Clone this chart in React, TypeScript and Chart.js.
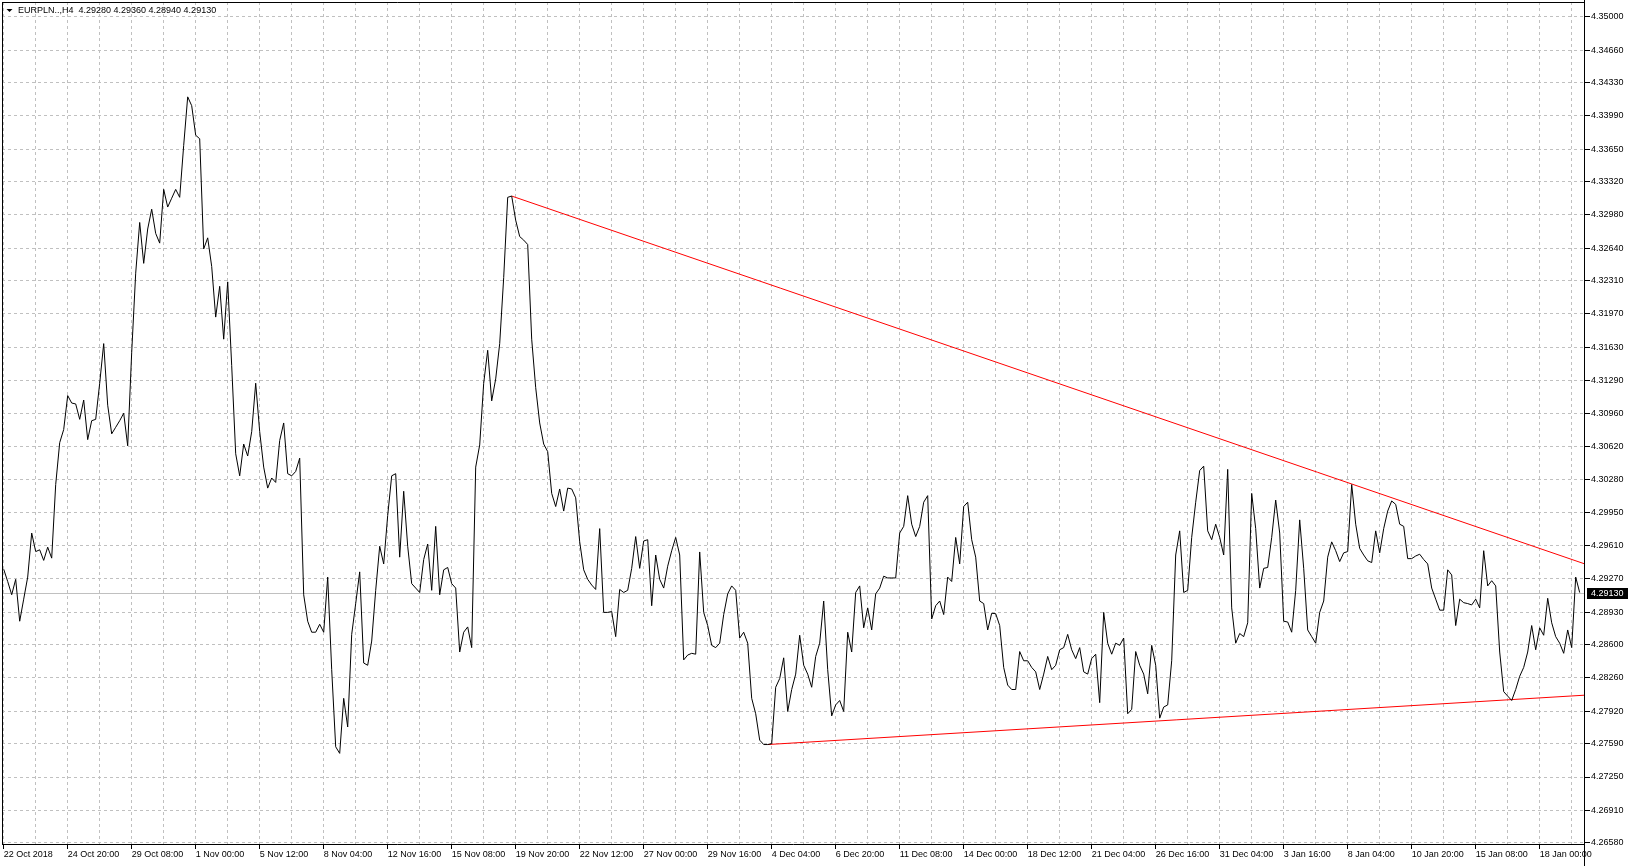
import React, { useEffect, useRef } from "react";
import { Chart, registerables } from "chart.js";

Chart.register(...registerables);

const FONT = '"Liberation Sans", Arial, sans-serif';

const symbolName = "EURPLN..,H4";
const lastBarOHLC = [4.2928, 4.2936, 4.2894, 4.2913];

const priceLabels = [
  "4.35000", "4.34660", "4.34330", "4.33990", "4.33650", "4.33320", "4.32980",
  "4.32640", "4.32310", "4.31970", "4.31630", "4.31290", "4.30960", "4.30620",
  "4.30280", "4.29950", "4.29610", "4.29270", "4.28930", "4.28600", "4.28260",
  "4.27920", "4.27590", "4.27250", "4.26910", "4.26580",
];

const timeLabels = [
  "22 Oct 2018", "24 Oct 20:00", "29 Oct 08:00", "1 Nov 00:00", "5 Nov 12:00",
  "8 Nov 04:00", "12 Nov 16:00", "15 Nov 08:00", "19 Nov 20:00", "22 Nov 12:00",
  "27 Nov 00:00", "29 Nov 16:00", "4 Dec 04:00", "6 Dec 20:00", "11 Dec 08:00",
  "14 Dec 00:00", "18 Dec 12:00", "21 Dec 04:00", "26 Dec 16:00", "31 Dec 04:00",
  "3 Jan 16:00", "8 Jan 04:00", "10 Jan 20:00", "15 Jan 08:00", "18 Jan 00:00",
];

// H4 close prices, one per bar
const closes = [
  4.29368, 4.29243, 4.29108, 4.29265, 4.28838, 4.29063, 4.29288, 4.29737, 4.29548, 4.29566,
  4.29458, 4.29593, 4.29481, 4.30231, 4.30658, 4.30792, 4.31138, 4.31062, 4.31053, 4.30896,
  4.31093, 4.30689, 4.30882, 4.30896, 4.31264, 4.31668, 4.31040, 4.30748, 4.30815, 4.30882,
  4.30958, 4.30626, 4.31578, 4.32386, 4.32903, 4.32486, 4.32836, 4.33038, 4.32791, 4.32692,
  4.33240, 4.33060, 4.33150, 4.33240, 4.33159, 4.33689, 4.34183, 4.34093, 4.33792, 4.33756,
  4.32633, 4.32746, 4.32454, 4.31938, 4.32252, 4.31713, 4.32297, 4.31443, 4.30545, 4.30320,
  4.30644, 4.30522, 4.30770, 4.31264, 4.30770, 4.30409, 4.30195, 4.30298, 4.30253, 4.30680,
  4.30859, 4.30342, 4.30320, 4.30365, 4.30500, 4.29108, 4.28838, 4.28726, 4.28726, 4.28807,
  4.28726, 4.29288, 4.28344, 4.27558, 4.27491, 4.28052, 4.27760, 4.28704, 4.29018, 4.29341,
  4.28412, 4.28389, 4.28636, 4.29153, 4.29602, 4.29422, 4.29916, 4.30320, 4.30342, 4.29491,
  4.30163, 4.29602, 4.29221, 4.29176, 4.29131, 4.29467, 4.29625, 4.29153, 4.29805, 4.29108,
  4.29362, 4.29386, 4.29221, 4.29176, 4.28524, 4.28726, 4.28780, 4.28569, 4.30409, 4.30635,
  4.31264, 4.31600, 4.31084, 4.31308, 4.31668, 4.32341, 4.33159, 4.33172, 4.32925, 4.32759,
  4.32723, 4.32678, 4.31713, 4.31219, 4.30859, 4.30644, 4.30567, 4.30141, 4.30007, 4.30186,
  4.29961, 4.30195, 4.30186, 4.30096, 4.29647, 4.29362, 4.29265, 4.29207, 4.29162, 4.29782,
  4.28928, 4.28928, 4.28937, 4.28681, 4.29162, 4.29131, 4.29153, 4.29377, 4.29701, 4.29377,
  4.29656, 4.29669, 4.28996, 4.29513, 4.29265, 4.29176, 4.29399, 4.29557, 4.29692, 4.29513,
  4.28444, 4.28493, 4.28511, 4.28502, 4.29544, 4.28928, 4.28794, 4.28592, 4.28569, 4.28614,
  4.28906, 4.29117, 4.29198, 4.29153, 4.28667, 4.28726, 4.28614, 4.28052, 4.27895, 4.27626,
  4.27581, 4.27581, 4.27590, 4.28165, 4.28254, 4.28465, 4.27918, 4.28142, 4.28299, 4.28695,
  4.28389, 4.28299, 4.28165, 4.28479, 4.28614, 4.29044, 4.28344, 4.27873, 4.27985, 4.28030,
  4.27918, 4.28726, 4.28524, 4.29131, 4.29198, 4.28771, 4.28974, 4.28749, 4.29117, 4.29176,
  4.29297, 4.29279, 4.29279, 4.29279, 4.29737, 4.29805, 4.30118, 4.29827, 4.29701, 4.29805,
  4.30051, 4.30118, 4.28861, 4.28996, 4.29044, 4.28906, 4.29288, 4.29243, 4.29692, 4.29422,
  4.30007, 4.30051, 4.29669, 4.29491, 4.29044, 4.29018, 4.28749, 4.28919, 4.28915, 4.28794,
  4.28367, 4.28187, 4.28142, 4.28142, 4.28529, 4.28435, 4.28435, 4.28367, 4.28322, 4.28142,
  4.28299, 4.28479, 4.28344, 4.28389, 4.28547, 4.28569, 4.28704, 4.28547, 4.28457, 4.28569,
  4.28322, 4.28299, 4.28457, 4.28502, 4.28008, 4.28928, 4.28614, 4.28502, 4.28614, 4.28592,
  4.28667, 4.27895, 4.27940, 4.28529, 4.28389, 4.28299, 4.28098, 4.28592, 4.28389, 4.27850,
  4.27963, 4.27985, 4.28435, 4.29513, 4.29759, 4.29131, 4.29153, 4.29692, 4.30051, 4.30374,
  4.30419, 4.29759, 4.29669, 4.29827, 4.29692, 4.29513, 4.30386, 4.28974, 4.28614, 4.28713,
  4.28681, 4.28822, 4.30141, 4.29782, 4.29176, 4.29377, 4.29386, 4.29692, 4.30073, 4.29737,
  4.28838, 4.28830, 4.28726, 4.29153, 4.29871, 4.29377, 4.28749, 4.28681, 4.28614, 4.28928,
  4.29044, 4.29491, 4.29647, 4.29557, 4.29446, 4.29535, 4.29548, 4.30231, 4.29827, 4.29580,
  4.29513, 4.29454, 4.29436, 4.29759, 4.29535, 4.29782, 4.29961, 4.30064, 4.30029, 4.29827,
  4.29805, 4.29476, 4.29476, 4.29503, 4.29521, 4.29467, 4.29422, 4.29176, 4.29063, 4.28951,
  4.28951, 4.29362, 4.29310, 4.28794, 4.29063, 4.29027, 4.29018, 4.29004, 4.29063, 4.28974,
  4.29557, 4.29198, 4.29251, 4.29198, 4.28524, 4.28120, 4.28075, 4.28030, 4.28142, 4.28277,
  4.28367, 4.28524, 4.28794, 4.28547, 4.28771, 4.28695, 4.29072, 4.28822, 4.28681, 4.28614,
  4.28511, 4.28749, 4.28569, 4.29288, 4.29130,
];

// trend lines: [bar index, price]
const resistanceLine = [
  { bar: 127, price: 4.33172 },
  { bar: 396, price: 4.29412 },
];
const supportLine = [
  { bar: 191, price: 4.27581 },
  { bar: 396, price: 4.28086 },
];

const mtPlugin = {
  id: "mt4look",
  beforeDatasetsDraw(chart: any) {
    const { ctx, chartArea: a, scales } = chart;
    const py = Math.round(scales.y.getPixelForValue(lastBarOHLC[3])) + 0.5;
    ctx.save();
    ctx.strokeStyle = "#c0c0c0";
    ctx.lineWidth = 1;
    ctx.beginPath();
    ctx.moveTo(a.left, py);
    ctx.lineTo(a.right, py);
    ctx.stroke();
    ctx.restore();
  },
  afterDraw(chart: any) {
    const { ctx, chartArea: a, scales } = chart;
    ctx.save();
    // frame
    ctx.strokeStyle = "#000";
    ctx.lineWidth = 1;
    ctx.beginPath();
    ctx.moveTo(a.left + 0.5, a.top);
    ctx.lineTo(a.left + 0.5, a.bottom);
    ctx.moveTo(a.left, a.top + 0.5);
    ctx.lineTo(a.right, a.top + 0.5);
    ctx.moveTo(a.left, a.bottom - 0.5);
    ctx.lineTo(a.right, a.bottom - 0.5);
    ctx.moveTo(a.right - 0.5, 0);
    ctx.lineTo(a.right - 0.5, chart.height);
    ctx.stroke();

    // header
    ctx.fillStyle = "#000";
    ctx.beginPath();
    ctx.moveTo(6.5, 9);
    ctx.lineTo(12.5, 9);
    ctx.lineTo(9.5, 12);
    ctx.closePath();
    ctx.fill();
    ctx.font = `9px ${FONT}`;
    ctx.textBaseline = "middle";
    ctx.textAlign = "left";
    const header = `${symbolName}  ${lastBarOHLC.map((v) => v.toFixed(5)).join(" ")}`;
    ctx.fillText(header, 18, 11);

    // current price box
    const py = Math.round(scales.y.getPixelForValue(lastBarOHLC[3]));
    ctx.fillStyle = "#000";
    ctx.fillRect(a.right + 2, py - 5, chart.width - a.right - 2, 11);
    ctx.fillStyle = "#fff";
    ctx.fillText(lastBarOHLC[3].toFixed(5), a.right + 6, py + 0.5);
    ctx.restore();
  },
};

export default function App() {
  const ref = useRef<HTMLCanvasElement>(null);

  useEffect(() => {
    const canvas = ref.current;
    if (!canvas) return;
    const yTickValues = priceLabels.map(Number);
    const xTickValues: number[] = [];
    for (let b = 0; b < closes.length; b += 8) xTickValues.push(b);

    const chart = new Chart(canvas, {
      type: "line",
      data: {
        datasets: [
          {
            label: "close",
            data: closes.map((c, i) => ({ x: i, y: c })),
            borderColor: "#000",
            borderWidth: 1,
            pointRadius: 0,
            tension: 0,
            fill: false,
          },
          {
            label: "resistance",
            data: resistanceLine.map((p) => ({ x: p.bar, y: p.price })),
            borderColor: "#ff0000",
            borderWidth: 1,
            pointRadius: 0,
            tension: 0,
            fill: false,
          },
          {
            label: "support",
            data: supportLine.map((p) => ({ x: p.bar, y: p.price })),
            borderColor: "#ff0000",
            borderWidth: 1,
            pointRadius: 0,
            tension: 0,
            fill: false,
          },
        ],
      },
      options: {
        animation: false,
        responsive: false,
        events: [],
        layout: { padding: { left: 2, top: 2, right: 0, bottom: 0 } },
        plugins: {
          legend: { display: false },
          tooltip: { enabled: false },
          title: { display: false },
        },
        scales: {
          x: {
            type: "linear",
            min: -0.425,
            max: 395.325,
            bounds: "data",
            afterBuildTicks: (scale: any) => {
              scale.ticks = xTickValues.map((v) => ({ value: v }));
            },
            afterFit: (scale: any) => {
              scale.height = 21;
              scale.paddingLeft = 0;
              scale.paddingRight = 0;
              scale.paddingTop = 0;
              scale.paddingBottom = 0;
            },
            ticks: {
              autoSkip: false,
              maxRotation: 0,
              minRotation: 0,
              align: "start",
              padding: 0,
              color: "#000",
              font: { family: FONT, size: 9 },
              callback: (value: any) => {
                const v = Number(value);
                return v % 16 === 0 ? timeLabels[v / 16] ?? "" : "";
              },
            },
            grid: {
              color: "#c0c0c0",
              lineWidth: 1,
              drawTicks: true,
              tickLength: 4,
              tickBorderDash: [],
              tickColor: (c: any) =>
                c.tick && Number(c.tick.value) % 16 === 0 ? "#000" : "rgba(0,0,0,0)",
            },
            border: { display: false, dash: [3, 3] },
          },
          y: {
            type: "linear",
            position: "right",
            min: 4.26557,
            max: 4.3515,
            bounds: "data",
            afterBuildTicks: (scale: any) => {
              scale.ticks = yTickValues.map((v) => ({ value: v }));
            },
            afterFit: (scale: any) => {
              scale.width = 43;
              scale.paddingLeft = 0;
              scale.paddingRight = 0;
              scale.paddingTop = 0;
              scale.paddingBottom = 0;
            },
            ticks: {
              autoSkip: false,
              padding: 1,
              color: "#000",
              font: { family: FONT, size: 9 },
              callback: (_v: any, i: number) => priceLabels[i],
            },
            grid: {
              color: "#c0c0c0",
              lineWidth: 1,
              drawTicks: true,
              tickLength: 5,
              tickBorderDash: [],
              tickColor: "#000",
            },
            border: { display: false, dash: [3, 3] },
          },
        },
      } as any,
      plugins: [mtPlugin],
    });
    return () => chart.destroy();
  }, []);

  return (
    <div
      style={{
        position: "absolute",
        left: 0,
        top: 0,
        width: 1628,
        height: 866,
        background: "#fff",
      }}
    >
      <canvas ref={ref} width={1628} height={866} style={{ display: "block" }} />
    </div>
  );
}
